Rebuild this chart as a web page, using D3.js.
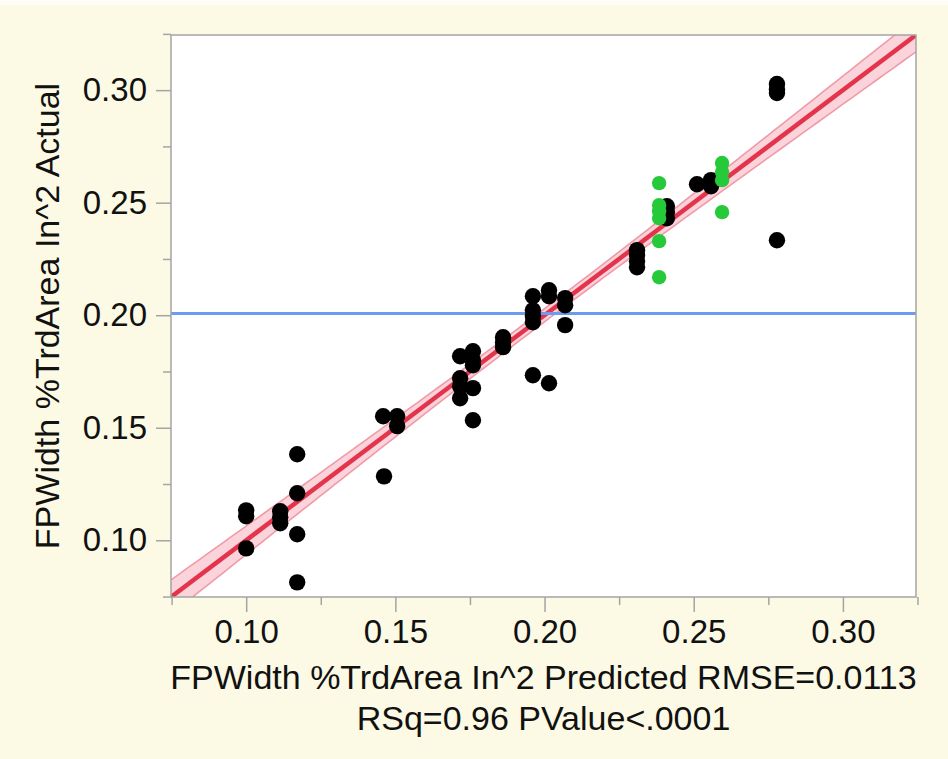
<!DOCTYPE html>
<html>
<head>
<meta charset="utf-8">
<script src="https://cdn.jsdelivr.net/npm/d3@7"></script>
<style>
  html, body { margin: 0; padding: 0; background: #fcfae4; }
  svg { display: block; }
  text { font-family: "Liberation Sans", Arial, Helvetica, sans-serif; fill: #111; }
</style>
</head>
<body>
<div id="chart"></div>
<script>
// black rows (excluded = green rows below)
const predictedBlack = [
  0.1000, 0.1000, 0.1000,
  0.1114, 0.1114, 0.1114,
  0.1171, 0.1171, 0.1171, 0.1171,
  0.1462, 0.1459, 0.1506, 0.1506,
  0.1717, 0.1717, 0.1717, 0.1717,
  0.1760, 0.1760, 0.1760, 0.1760, 0.1760,
  0.1861, 0.1861, 0.1861,
  0.1961, 0.1961, 0.1961, 0.1961, 0.1961,
  0.2015, 0.2015, 0.2015,
  0.2069, 0.2069, 0.2069,
  0.2310, 0.2310, 0.2310, 0.2310,
  0.2410, 0.2410, 0.2410,
  0.2511, 0.2558, 0.2558,
  0.2779, 0.2779, 0.2779, 0.2779
];
const actualBlack = [
  0.1133, 0.1107, 0.0964,
  0.1129, 0.1102, 0.1076,
  0.1382, 0.1209, 0.1027, 0.0813,
  0.1284, 0.1551, 0.1551, 0.1507,
  0.1818, 0.1720, 0.1684, 0.1631,
  0.1840, 0.1800, 0.1778, 0.1676, 0.1533,
  0.1902, 0.1880, 0.1858,
  0.2084, 0.2022, 0.1996, 0.1969, 0.1733,
  0.2111, 0.2084, 0.1698,
  0.2076, 0.2044, 0.1956,
  0.2289, 0.2267, 0.2240, 0.2213,
  0.2484, 0.2458, 0.2431,
  0.2582, 0.2600, 0.2573,
  0.3027, 0.3004, 0.2987, 0.2333
];
const predictedGreen = [0.2384, 0.2384, 0.2384, 0.2384, 0.2384, 0.2384, 0.2595, 0.2595, 0.2595, 0.2595];
const actualGreen = [0.2587, 0.2489, 0.2462, 0.2431, 0.2329, 0.2169, 0.2676, 0.2636, 0.2600, 0.2458];

const majorTicks = [0.10, 0.15, 0.20, 0.25, 0.30];
const minorTicks = [0.075, 0.125, 0.175, 0.225, 0.275, 0.325];
const axisDomain = [0.0748, 0.3245];
const rmse = 0.0113;
const meanActual = 0.2008; // blue mean line

const xTitle = "FPWidth %TrdArea In^2 Predicted RMSE=0.0113";
const xSubTitle = "RSq=0.96 PValue<.0001";
const yTitle = "FPWidth %TrdArea In^2 Actual";

const width = 948;
const height = 759;
const plot = { left: 171, right: 916, top: 35, bottom: 597 };

const svg = d3.select("#chart")
  .append("svg")
  .attr("width", width)
  .attr("height", height)
  .attr("viewBox", `0 0 ${width} ${height}`);

svg.append("rect").attr("width", width).attr("height", height).attr("fill", "#fcfae4");
svg.append("rect").attr("width", width).attr("height", 5).attr("fill", "#fffef4");

const x = d3.scaleLinear().domain(axisDomain).range([plot.left, plot.right]);
const y = d3.scaleLinear().domain(axisDomain).range([plot.bottom, plot.top]);

svg.append("rect")
  .attr("x", plot.left)
  .attr("y", plot.top)
  .attr("width", plot.right - plot.left)
  .attr("height", plot.bottom - plot.top)
  .attr("fill", "#fff");

svg.append("clipPath").attr("id", "plot-clip")
  .append("rect")
  .attr("x", plot.left)
  .attr("y", plot.top)
  .attr("width", plot.right - plot.left)
  .attr("height", plot.bottom - plot.top);

const g = svg.append("g").attr("clip-path", "url(#plot-clip)");

// fit stats from the rows themselves
const allPred = predictedBlack.concat(predictedGreen);
const n = allPred.length;
const xbar = meanActual;
const sxx = d3.sum(allPred, (v) => (v - xbar) ** 2);
const tCrit = 2.0;

function halfWidth(v) {
  return tCrit * rmse * Math.sqrt(1 / n + (v - xbar) ** 2 / sxx);
}

const samples = d3.range(0, 101).map((i) => axisDomain[0] + (i / 100) * (axisDomain[1] - axisDomain[0]));

const area = d3.area()
  .x((v) => x(v))
  .y0((v) => y(v - halfWidth(v)))
  .y1((v) => y(v + halfWidth(v)));

g.append("path")
  .attr("d", area(samples))
  .attr("fill", "#fbd3da");

const upper = d3.line().x((v) => x(v)).y((v) => y(v + halfWidth(v)));
const lower = d3.line().x((v) => x(v)).y((v) => y(v - halfWidth(v)));

[upper, lower].forEach((ln) => {
  g.append("path")
    .attr("d", ln(samples))
    .attr("fill", "none")
    .attr("stroke", "#f09aa8")
    .attr("stroke-width", 1.6);
});

g.append("line")
  .attr("x1", x(axisDomain[0]))
  .attr("y1", y(axisDomain[0]))
  .attr("x2", x(axisDomain[1]))
  .attr("y2", y(axisDomain[1]))
  .attr("stroke", "#e4344b")
  .attr("stroke-width", 4.5);

g.append("line")
  .attr("x1", plot.left)
  .attr("x2", plot.right)
  .attr("y1", y(meanActual))
  .attr("y2", y(meanActual))
  .attr("stroke", "#6b9cf0")
  .attr("stroke-width", 3);

g.selectAll(".dot-black")
  .data(predictedBlack.map((p, i) => [p, actualBlack[i]]))
  .join("circle")
  .attr("class", "dot-black")
  .attr("cx", (d) => x(d[0]))
  .attr("cy", (d) => y(d[1]))
  .attr("r", 8.2)
  .attr("fill", "#000");

g.selectAll(".dot-green")
  .data(predictedGreen.map((p, i) => [p, actualGreen[i]]))
  .join("circle")
  .attr("class", "dot-green")
  .attr("cx", (d) => x(d[0]))
  .attr("cy", (d) => y(d[1]))
  .attr("r", 7.2)
  .attr("fill", "#26c93a");

// frame
svg.append("rect")
  .attr("x", plot.left)
  .attr("y", plot.top)
  .attr("width", plot.right - plot.left)
  .attr("height", plot.bottom - plot.top)
  .attr("fill", "none")
  .attr("stroke", "#a4a4a4")
  .attr("stroke-width", 1.5);

// axes
const xAxis = d3.axisBottom(x).tickValues(majorTicks).tickFormat(d3.format(".2f")).tickSize(15).tickPadding(8);
const xMinor = d3.axisBottom(x).tickValues(minorTicks).tickFormat("").tickSize(8);
const yAxis = d3.axisLeft(y).tickValues(majorTicks).tickFormat(d3.format(".2f")).tickSize(15).tickPadding(9);
const yMinor = d3.axisLeft(y).tickValues(minorTicks).tickFormat("").tickSize(8);

function styleAxis(sel) {
  sel.select(".domain").remove();
  sel.selectAll("line").attr("stroke", "#a4a4a4").attr("stroke-width", 1.5);
  sel.selectAll("text")
    .attr("font-family", '"Liberation Sans", Arial, sans-serif')
    .attr("font-size", 33)
    .attr("fill", "#111");
}

svg.append("g").attr("transform", `translate(0,${plot.bottom})`).call(xAxis).call(styleAxis);
svg.append("g").attr("transform", `translate(0,${plot.bottom})`).call(xMinor).call(styleAxis);
svg.append("g").attr("transform", `translate(${plot.left},0)`).call(yAxis).call(styleAxis);
svg.append("g").attr("transform", `translate(${plot.left},0)`).call(yMinor).call(styleAxis);

const cx = (plot.left + plot.right) / 2;

svg.append("text")
  .attr("x", cx)
  .attr("y", 689)
  .attr("text-anchor", "middle")
  .attr("font-size", 34)
  .text(xTitle);

svg.append("text")
  .attr("x", cx)
  .attr("y", 730)
  .attr("text-anchor", "middle")
  .attr("font-size", 34)
  .text(xSubTitle);

svg.append("text")
  .attr("transform", `translate(59,${(plot.top + plot.bottom) / 2}) rotate(-90)`)
  .attr("text-anchor", "middle")
  .attr("font-size", 34)
  .text(yTitle);
</script>
</body>
</html>
